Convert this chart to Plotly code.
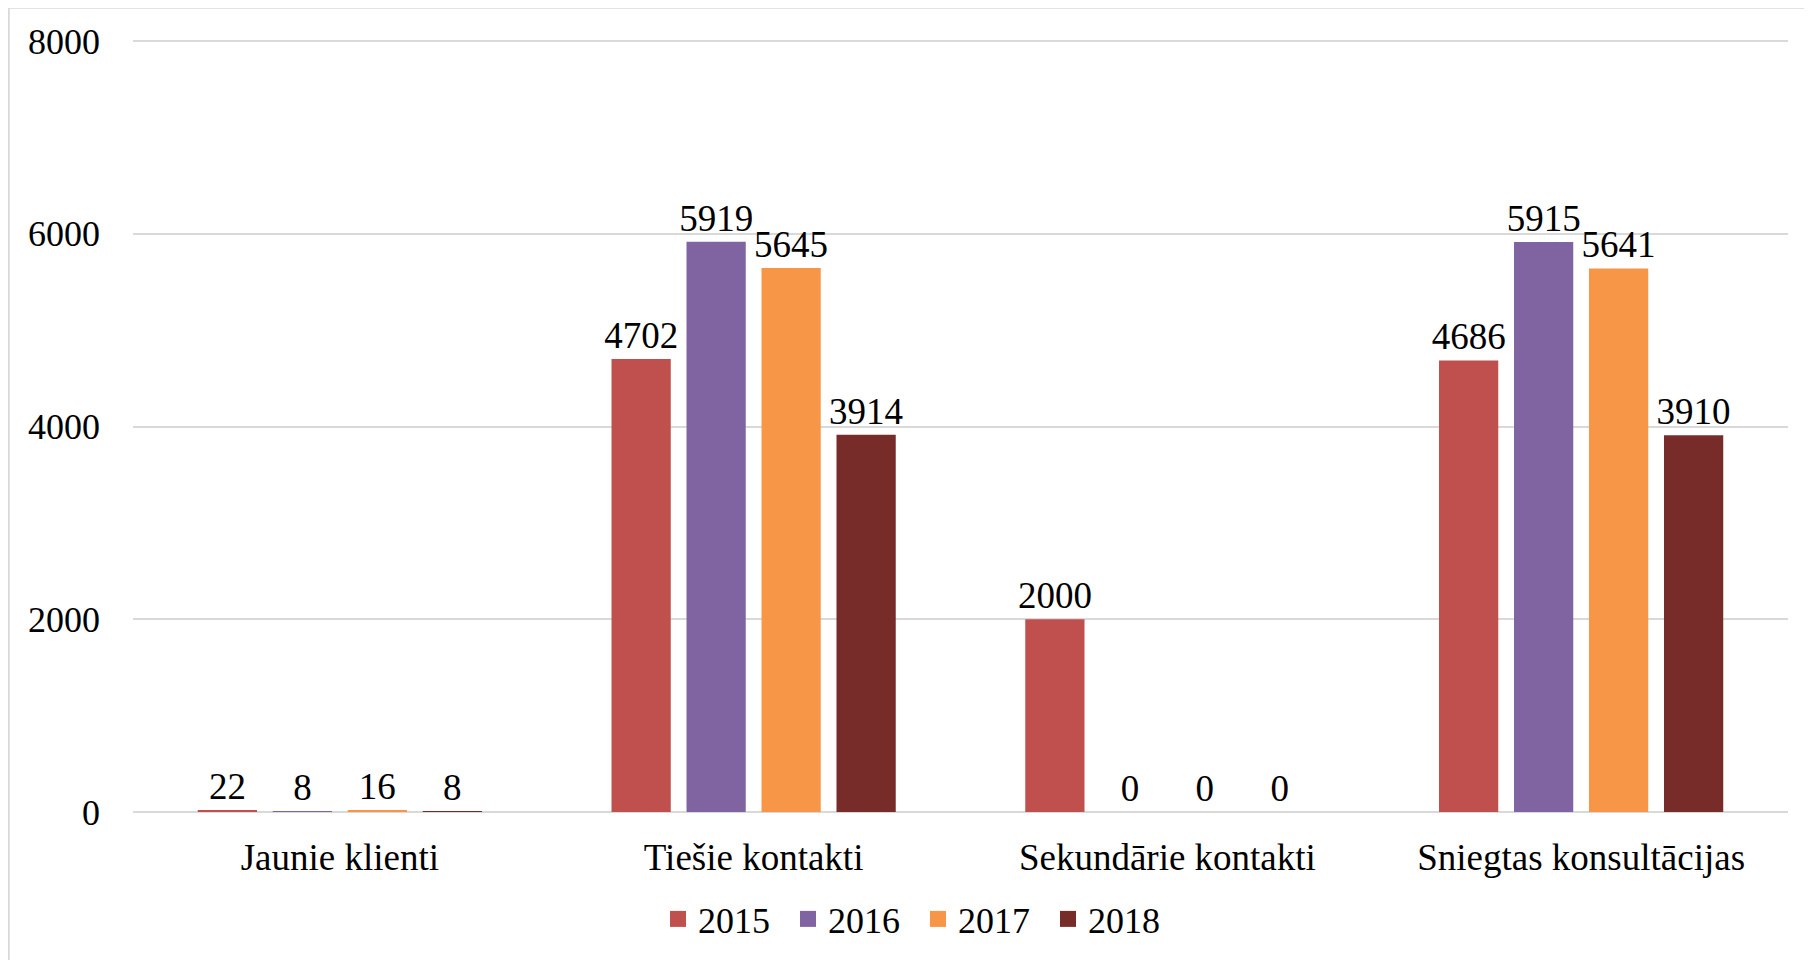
import plotly.graph_objects as go

categories = ["Jaunie klienti", "Tiešie kontakti", "Sekundārie kontakti", "Sniegtas konsultācijas"]
years = ["2015", "2016", "2017", "2018"]
v2015 = [22, 4702, 2000, 4686]
v2016 = [8, 5919, 0, 5915]
v2017 = [16, 5645, 0, 5641]
v2018 = [8, 3914, 0, 3910]
colors = ["#C0504D", "#8064A2", "#F79646", "#772C2A"]
y_ticks = [0, 2000, 4000, 6000, 8000]

FONT = "Liberation Serif, Times New Roman, serif"
W, H = 1812, 960
ML, MR, MT, MB = 125, 32, 32, 156

fig = go.Figure()
for name, vals, col in zip(years, [v2015, v2016, v2017, v2018], colors):
    fig.add_trace(go.Bar(
        name=name, x=categories, y=vals, marker_color=col, marker_line_width=0,
        text=[str(v) for v in vals], textposition="outside", constraintext="none",
        textfont=dict(family=FONT, size=37, color="black"),
        cliponaxis=False, showlegend=False,
    ))
# legend entries with larger square swatches
for name, col in zip(years, colors):
    fig.add_trace(go.Scatter(
        name=name, x=[None], y=[None], mode="markers",
        marker=dict(symbol="square", size=19, color=col), showlegend=True,
    ))

pw = W - ML - MR
ph = H - MT - MB

fig.update_layout(
    width=W, height=H,
    margin=dict(l=ML, r=MR, t=MT, b=MB, autoexpand=False),
    paper_bgcolor="white", plot_bgcolor="white",
    barmode="group", bargap=0.275, bargroupgap=0.21,
    font=dict(family=FONT, size=36, color="black"),
    showlegend=True,
    legend=dict(orientation="h", x=(910 - ML) / pw, xanchor="center",
                y=-107 / ph, yanchor="middle",
                font=dict(family=FONT, size=36, color="black"),
                entrywidth=85, entrywidthmode="pixels",
                itemsizing="trace", traceorder="normal"),
    xaxis=dict(showgrid=False, showline=False, ticks="", zeroline=False,
               tickfont=dict(family=FONT, size=37, color="black"),
               ticklabelstandoff=20),
    yaxis=dict(range=[0, 8012], tickvals=y_ticks, showgrid=True,
               gridcolor="#D9D9D9", gridwidth=1.5, zeroline=True,
               zerolinecolor="#D9D9D9", zerolinewidth=1.5, showline=False,
               ticks="", tickfont=dict(family=FONT, size=36, color="black"),
               ticklabelstandoff=32),
)

# outer frame (left and top edges visible)
fx = (0.5 - ML) / pw
fy = (H - MB + 0.5) / ph
fig.add_shape(type="line", xref="paper", yref="paper",
              x0=fx, x1=fx, y0=-(MB + 10) / ph, y1=fy,
              line=dict(color="#D9D9D9", width=2.5))
fig.add_shape(type="line", xref="paper", yref="paper",
              x0=fx, x1=(W + 10 - ML) / pw, y0=fy, y1=fy,
              line=dict(color="#D9D9D9", width=2.5))

fig.write_html("out.html")
